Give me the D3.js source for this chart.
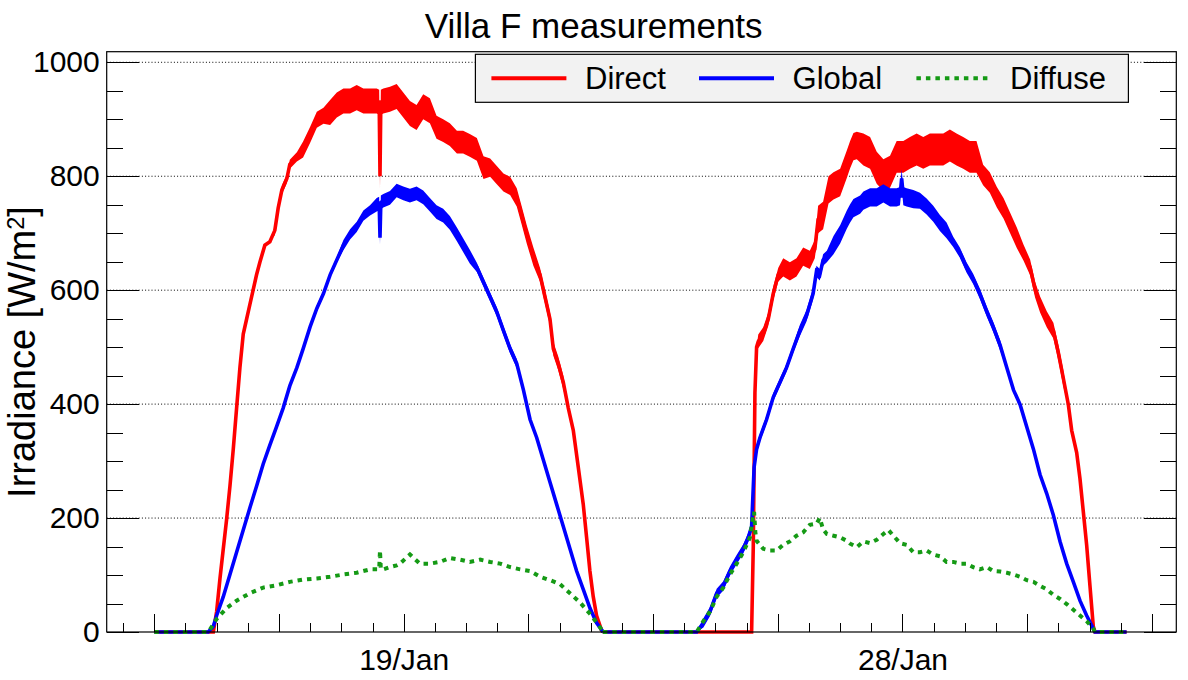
<!DOCTYPE html>
<html>
<head>
<meta charset="utf-8">
<script src="https://cdn.jsdelivr.net/npm/d3@7"></script>
<style>
body { margin: 0; background: #fff; }
svg text { font-family: "Liberation Sans", Arial, Helvetica, sans-serif; fill: #000; }
</style>
</head>
<body>
<svg class="main"></svg>
<script>
// [local hour, W/m2]
var directJan19 = [[6.00,0],[7.42,0],[7.50,36],[7.58,94],[7.66,146],[7.74,198],[7.82,256],[7.90,321],[7.98,393],[8.06,464],[8.14,523],[8.22,549],[8.30,575],[8.38,601],[8.46,627],[8.54,649],[8.66,679],[8.78,685],[8.90,705],[8.98,744],[9.07,776],[9.19,796],[9.26,821],[9.43,834],[9.58,847],[9.75,873],[9.91,899],[10.07,906],[10.23,912],[10.39,925],[10.55,932],[10.71,932],[10.87,938],[11.03,932],[11.19,932],[11.35,932],[11.41,930],[11.43,800],[11.45,930],[11.51,932],[11.67,935],[11.83,940],[11.99,925],[12.15,910],[12.31,903],[12.47,922],[12.63,915],[12.79,886],[12.95,880],[13.11,873],[13.28,860],[13.43,860],[13.59,854],[13.76,847],[13.92,815],[14.08,815],[14.24,802],[14.40,789],[14.56,783],[14.72,763],[14.84,731],[14.96,698],[15.12,659],[15.28,627],[15.40,588],[15.52,549],[15.60,497],[15.72,471],[15.84,438],[15.96,393],[16.08,354],[16.20,289],[16.32,224],[16.40,166],[16.48,107],[16.56,62],[16.64,29],[16.76,3],[16.79,0]];
var globalJan19 = [[6.00,0],[7.30,0],[7.42,10],[7.50,29],[7.66,62],[7.82,101],[7.98,140],[8.14,179],[8.30,218],[8.46,256],[8.62,295],[8.78,328],[8.94,360],[9.10,393],[9.26,432],[9.43,464],[9.58,497],[9.75,536],[9.91,568],[10.07,594],[10.23,627],[10.39,653],[10.55,679],[10.71,698],[10.87,711],[11.03,731],[11.19,740],[11.35,750],[11.41,752],[11.43,692],[11.45,754],[11.51,757],[11.67,762],[11.83,775],[11.99,770],[12.15,766],[12.31,770],[12.47,763],[12.63,750],[12.79,737],[12.95,731],[13.11,718],[13.28,698],[13.43,679],[13.59,659],[13.76,640],[13.92,614],[14.08,588],[14.24,562],[14.40,529],[14.56,497],[14.72,471],[14.88,425],[15.04,373],[15.20,341],[15.36,302],[15.52,263],[15.68,224],[15.84,185],[16.00,146],[16.16,107],[16.32,75],[16.48,42],[16.64,16],[16.80,0]];
var diffuseJan19 = [[6.00,0],[7.30,0],[7.50,23],[7.74,42],[7.98,55],[8.30,68],[8.62,78],[8.94,82],[9.26,88],[9.58,92],[9.91,94],[10.23,97],[10.55,101],[10.87,104],[11.19,110],[11.41,110],[11.43,143],[11.45,110],[11.51,110],[11.67,114],[11.83,117],[11.91,120],[12.15,136],[12.39,120],[12.63,120],[12.87,123],[13.11,130],[13.35,127],[13.59,123],[13.84,127],[14.08,123],[14.32,120],[14.56,114],[14.80,110],[15.04,107],[15.28,97],[15.52,91],[15.76,84],[16.00,68],[16.24,52],[16.48,32],[16.68,13],[16.80,0]];

var directJan28 = [[4.79,0],[8.37,0],[8.41,150],[8.45,420],[8.49,500],[8.53,510],[8.65,523],[8.77,549],[8.89,594],[9.01,627],[9.13,640],[9.29,633],[9.45,640],[9.61,659],[9.77,653],[9.89,672],[9.97,724],[10.09,731],[10.22,776],[10.34,783],[10.50,789],[10.66,821],[10.74,838],[10.82,852],[10.90,854],[11.06,847],[11.22,841],[11.38,815],[11.54,802],[11.70,808],[11.86,834],[12.02,834],[12.18,841],[12.34,847],[12.50,841],[12.66,847],[12.82,847],[12.98,847],[13.14,854],[13.30,847],[13.46,841],[13.62,834],[13.78,834],[13.94,802],[14.10,789],[14.27,763],[14.43,744],[14.59,718],[14.75,692],[14.91,666],[15.07,640],[15.19,601],[15.31,575],[15.47,549],[15.63,529],[15.75,490],[15.87,445],[15.99,399],[16.07,354],[16.19,315],[16.27,269],[16.35,211],[16.43,153],[16.51,81],[16.59,10],[16.63,0],[17.39,0]];
var globalJan28 = [[4.79,0],[7.05,0],[7.21,16],[7.37,36],[7.53,68],[7.69,81],[7.85,107],[8.01,127],[8.17,146],[8.29,166],[8.37,185],[8.43,289],[8.49,321],[8.57,341],[8.73,373],[8.89,412],[9.05,438],[9.21,464],[9.37,497],[9.53,529],[9.69,555],[9.85,594],[9.93,633],[10.01,627],[10.09,653],[10.18,659],[10.34,679],[10.50,698],[10.66,724],[10.74,735],[10.82,744],[10.98,750],[11.06,757],[11.22,763],[11.38,763],[11.54,770],[11.70,763],[11.86,763],[11.94,765],[11.98,796],[12.02,765],[12.10,763],[12.26,760],[12.42,757],[12.58,747],[12.74,734],[12.90,718],[13.06,705],[13.22,685],[13.38,666],[13.54,640],[13.70,620],[13.86,594],[14.03,562],[14.18,536],[14.35,503],[14.51,464],[14.67,425],[14.83,399],[14.99,360],[15.15,321],[15.31,276],[15.47,243],[15.63,205],[15.79,159],[15.95,120],[16.11,88],[16.27,55],[16.43,29],[16.59,6],[16.63,0],[17.39,0]];
var diffuseJan28 = [[4.79,0],[7.05,0],[7.21,19],[7.37,36],[7.53,62],[7.69,78],[7.85,101],[8.01,120],[8.17,140],[8.33,166],[8.40,200],[8.43,211],[8.46,175],[8.49,160],[8.65,146],[8.81,143],[8.97,143],[9.13,153],[9.29,159],[9.45,169],[9.61,175],[9.77,188],[9.93,190],[10.01,200],[10.09,180],[10.18,172],[10.34,169],[10.50,166],[10.66,160],[10.74,155],[10.90,149],[11.06,159],[11.22,156],[11.38,162],[11.54,172],[11.66,179],[11.78,169],[11.94,156],[12.10,153],[12.26,140],[12.42,140],[12.58,143],[12.74,136],[12.90,133],[13.06,123],[13.22,123],[13.38,120],[13.54,120],[13.70,114],[13.86,110],[14.03,114],[14.18,107],[14.35,106],[14.51,104],[14.67,101],[14.83,97],[14.99,91],[15.15,88],[15.31,81],[15.47,75],[15.63,65],[15.79,58],[15.95,49],[16.11,39],[16.27,29],[16.43,19],[16.59,6],[16.63,0],[17.39,0]];

// fluctuation half-width, [from hour, W/m2]
var directNoise19 = [[6, 0], [8.9, 8], [9.5, 14], [10.2, 22], [12.7, 20], [14.0, 16], [15.2, 12], [15.9, 6], [16.3, 0]];
var globalNoise19 = [[6, 0], [9.8, 5], [10.5, 9], [11.3, 12], [13.6, 8], [14.8, 4], [15.5, 2], [16.5, 0]];
var directNoise28 = [[4.8, 0], [8.5, 12], [9.1, 16], [9.9, 24], [11.0, 28], [13.9, 18], [14.8, 14], [15.9, 4], [16.6, 0]];
var globalNoise28 = [[4.8, 0], [7.2, 8], [8.5, 7], [9.4, 10], [10.3, 16], [12.4, 14], [13.2, 9], [14.5, 4], [16.4, 0]];

var dayLabels = ["19/Jan", "28/Jan"];
var dayOffset = [0, 12]; // second day is drawn straight after the first
var yTicks = [0, 200, 400, 600, 800, 1000];

var series = [
    { name: "Direct", color: "#ff0000", days: [directJan19, directJan28], noise: [directNoise19, directNoise28] },
    { name: "Global", color: "#0000ff", days: [globalJan19, globalJan28], noise: [globalNoise19, globalNoise28] },
    { name: "Diffuse", color: "#159a15", days: [diffuseJan19, diffuseJan28], noise: null, dash: "4.5,5" }
];

var canvas = { width: 1188, height: 680 },
    frame = { left: 106.7, right: 1176.3, top: 51.7, bottom: 632 },
    fontSize = { tick: 30, title: 35, axisTitle: 38, legend: 31 },
    main = d3.select(".main")
        .attr("width", canvas.width)
        .attr("height", canvas.height);

var x = d3.scaleLinear().domain([4.855, 30.587]).range([frame.left, frame.right]),
    y = d3.scaleLinear().domain([0, 1018.6]).range([frame.bottom, frame.top]);

function noiseAt(steps, h) {
    var n = 0;
    steps.forEach(function(s) {
        if (h >= s[0]) n = s[1];
    });
    return n;
}

// grid
main.append("g").selectAll("line")
    .data(yTicks.slice(1)).enter()
    .append("line")
    .attr("x1", frame.left).attr("x2", frame.right)
    .attr("y1", y).attr("y2", y)
    .attr("stroke", "#000")
    .attr("stroke-width", 1)
    .attr("stroke-dasharray", "1,2.2");

// traces
var plot = main.append("g");
series.forEach(function(s) {
    s.days.forEach(function(data, i) {
        var off = dayOffset[i];
        if (s.noise) {
            var steps = s.noise[i];
            plot.append("path")
                .datum(data)
                .attr("fill", s.color)
                .attr("d", d3.area()
                    .x(function(d) { return x(d[0] + off); })
                    .y0(function(d) { return y(Math.max(0, d[1] - noiseAt(steps, d[0]))); })
                    .y1(function(d) { return y(d[1] + noiseAt(steps, d[0])); }));
        }
        plot.append("path")
            .datum(data)
            .attr("fill", "none")
            .attr("stroke", s.color)
            .attr("stroke-width", s.dash ? 4 : 3.6)
            .attr("stroke-dasharray", s.dash || null)
            .attr("d", d3.line()
                .x(function(d) { return x(d[0] + off); })
                .y(function(d) { return y(d[1]); }));
    });
});

// axes
function tidy(g) {
    g.select(".domain").remove();
    g.selectAll(".tick line").attr("stroke", "#000").attr("shape-rendering", "crispEdges");
    g.selectAll("text").style("font-size", fontSize.tick + "px").attr("fill", "#000");
}

var xMinor = d3.range(5.25, frame.right, 0.75).filter(function(h) { return x(h) < frame.right; }),
    xMajor = d3.range(6, 30.01, 3);

main.append("g")
    .attr("transform", "translate(0," + frame.bottom + ")")
    .call(d3.axisBottom(x).tickValues(xMinor).tickSize(-9).tickFormat(""))
    .call(tidy);
main.append("g")
    .attr("transform", "translate(0," + frame.bottom + ")")
    .call(d3.axisBottom(x).tickValues(xMajor).tickSize(-18).tickPadding(17)
        .tickFormat(function(h) {
            var i = dayOffset.indexOf(h - 12);
            return i < 0 ? "" : dayLabels[i];
        }))
    .call(tidy);

var yMinor = d3.range(0, 1001, 50);
[["left", frame.left], ["right", frame.right]].forEach(function(side) {
    var axis = side[0] === "left" ? d3.axisLeft : d3.axisRight;
    main.append("g")
        .attr("transform", "translate(" + side[1] + ",0)")
        .call(axis(y).tickValues(yMinor).tickSize(-16).tickFormat(""))
        .call(tidy);
    main.append("g")
        .attr("transform", "translate(" + side[1] + ",0)")
        .call(axis(y).tickValues(yTicks).tickSize(-32).tickPadding(7)
            .tickFormat(side[0] === "left" ? d3.format("d") : ""))
        .call(tidy);
});

main.append("rect")
    .attr("x", frame.left).attr("y", frame.top)
    .attr("width", frame.right - frame.left)
    .attr("height", frame.bottom - frame.top)
    .attr("fill", "none")
    .attr("stroke", "#000")
    .attr("stroke-width", 1.2);

// titles
main.append("text")
    .attr("x", 593.7).attr("y", 37.5)
    .attr("text-anchor", "middle")
    .style("font-size", fontSize.title + "px")
    .text("Villa F measurements");

var yTitle = main.append("text")
    .attr("transform", "translate(35,352) rotate(-90)")
    .attr("text-anchor", "middle")
    .style("font-size", fontSize.axisTitle + "px");
yTitle.append("tspan").text("Irradiance [W/m");
yTitle.append("tspan").attr("dy", "-0.45em").style("font-size", "0.62em").text("2");
yTitle.append("tspan").attr("dy", "0.28em").text("]");

// legend
var legend = { x: 475.4, y: 54.3, width: 653, height: 48, entryX: [491.4, 699, 916.4], sample: 75, gap: 18.6 };
var lg = main.append("g");
lg.append("rect")
    .attr("x", legend.x).attr("y", legend.y)
    .attr("width", legend.width).attr("height", legend.height)
    .attr("fill", "#f2f2f2")
    .attr("stroke", "#000")
    .attr("stroke-width", 1.2);
var entry = lg.selectAll("g.entry")
    .data(series).enter()
    .append("g")
    .attr("transform", function(d, i) {
        return "translate(" + legend.entryX[i] + "," + (legend.y + legend.height / 2) + ")";
    });
entry.append("line")
    .attr("x1", 0).attr("x2", legend.sample)
    .attr("stroke", function(d) { return d.color; })
    .attr("stroke-width", 4)
    .attr("stroke-dasharray", function(d) { return d.dash || null; });
entry.append("text")
    .attr("x", legend.sample + legend.gap)
    .attr("dy", "0.35em")
    .style("font-size", fontSize.legend + "px")
    .text(function(d) { return d.name; });
</script>
</body>
</html>
